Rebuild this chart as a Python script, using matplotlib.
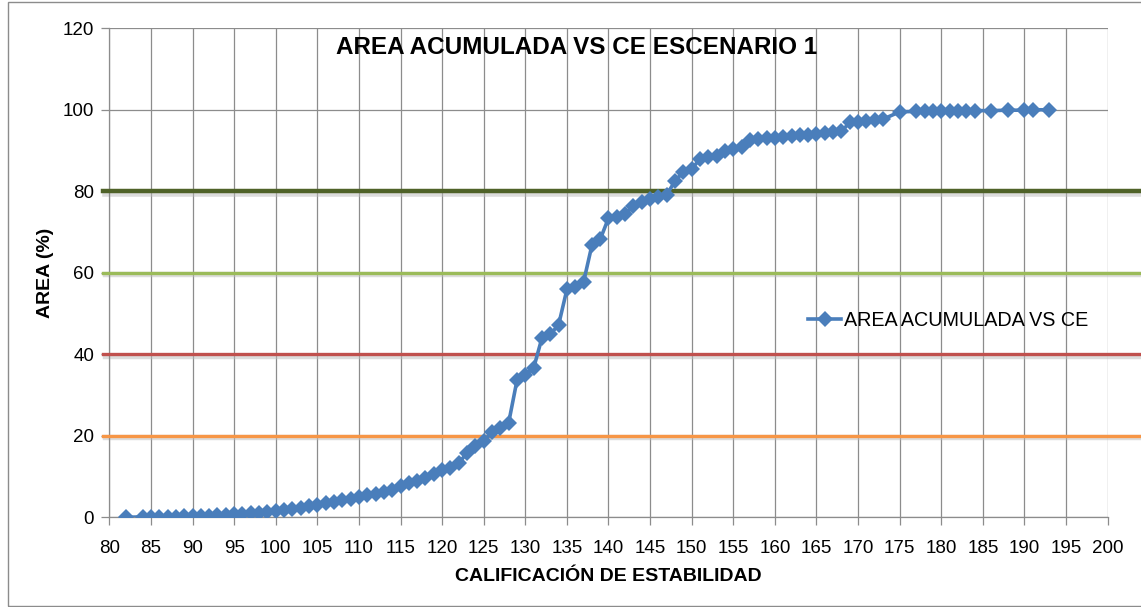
import matplotlib.pyplot as plt
from matplotlib.patches import Rectangle

# calificación de estabilidad (CE) y área acumulada (%)
ce = [82, 84, 85, 86, 87, 88, 89, 90, 91, 92, 93, 94, 95, 96, 97, 98, 99, 100,
      101, 102, 103, 104, 105, 106, 107, 108, 109, 110, 111, 112, 113, 114, 115,
      116, 117, 118, 119, 120, 121, 122, 123, 124, 125, 126, 127, 128, 129, 130,
      131, 132, 133, 134, 135, 136, 137, 138, 139, 140, 141, 142, 143, 144, 145,
      146, 147, 148, 149, 150, 151, 152, 153, 154, 155, 156, 157, 158, 159, 160,
      161, 162, 163, 164, 165, 166, 167, 168, 169, 170, 171, 172, 173, 175, 177,
      178, 179, 180, 181, 182, 183, 184, 186, 188, 190, 191, 193]
area = [0.0, 0.1, 0.1, 0.1, 0.1, 0.1, 0.2, 0.2, 0.3, 0.4, 0.5, 0.6, 0.7, 0.8, 1.0, 1.1, 1.3, 1.5,
        1.7, 2.0, 2.3, 2.7, 3.0, 3.4, 3.8, 4.2, 4.6, 5.0, 5.4, 5.8, 6.2, 6.7, 7.6,
        8.3, 8.9, 9.6, 10.6, 11.5, 12.2, 13.3, 15.8, 17.6, 18.7, 20.9, 22.0, 23.2, 33.6, 35.0,
        36.6, 44.0, 44.9, 47.2, 55.9, 56.5, 57.7, 66.7, 68.2, 73.4, 73.8, 74.5, 76.3, 77.4, 78.2,
        78.7, 79.2, 82.5, 84.8, 85.4, 88.0, 88.4, 88.6, 89.8, 90.3, 90.8, 92.6, 92.9, 93.0, 93.1,
        93.3, 93.5, 93.7, 93.9, 94.1, 94.3, 94.5, 94.7, 96.9, 97.1, 97.3, 97.5, 97.7, 99.5, 99.6,
        99.6, 99.7, 99.7, 99.7, 99.8, 99.8, 99.8, 99.8, 99.9, 99.9, 100.0, 100.0]

# líneas de referencia
umbrales = [80, 60, 40, 20]
colores_umbral = ['#4F6228', '#9BBB59', '#C0504D', '#F79646']
anchos_umbral = [3.2, 2.4, 2.4, 2.4]

plt.rcParams['font.family'] = ['Liberation Sans', 'DejaVu Sans']

fig = plt.figure(figsize=(11.41, 6.07), dpi=100)
ax = fig.add_axes([0.0958, 0.1478, 0.875, 0.8056])

ax.set_xlim(80, 200)
ax.set_ylim(0, 120)
ax.set_xticks(range(80, 201, 5))
ax.set_yticks(range(0, 121, 20))
ax.grid(True, color='#8C8C8C', linewidth=0.9)
ax.set_axisbelow(True)
for s in ['top', 'right']:
    ax.spines[s].set_visible(False)
for s in ['left', 'bottom']:
    ax.spines[s].set_color('#8C8C8C')
    ax.spines[s].set_linewidth(0.9)
ax.tick_params(axis='both', length=6, color='#8C8C8C', width=0.9, labelsize=13.5)
ax.tick_params(axis='x', pad=10)
ax.tick_params(axis='y', pad=5)

# líneas horizontales (formas de Excel, salen del área de trazado)
for y, c, lw in zip(umbrales, colores_umbral, anchos_umbral):
    ax.axhline(y - 0.35, xmin=-0.004, xmax=1.04, color='#BBBBBB', linewidth=lw + 1.5,
               alpha=0.5, clip_on=False, zorder=2)
    ax.axhline(y, xmin=-0.006, xmax=1.04, color=c, linewidth=lw, clip_on=False, zorder=3)

ax.plot(ce, area, color='#4A7EBB', linewidth=2.6, marker='D', markersize=8.5,
        markeredgewidth=0, label='AREA ACUMULADA VS CE', zorder=4)

ax.set_xlabel('CALIFICACIÓN DE ESTABILIDAD', fontsize=14, fontweight='bold', labelpad=8)
ax.set_ylabel('AREA (%)', fontsize=14, fontweight='bold', labelpad=6)
ax.text(0.468, 0.96, 'AREA ACUMULADA VS CE ESCENARIO 1', transform=ax.transAxes,
        ha='center', va='center', fontsize=17.5, fontweight='bold')

ax.legend(loc='center left', bbox_to_anchor=(0.682, 0.403), frameon=False, fontsize=14.2,
          handlelength=1.7, handletextpad=0.15)

# borde del gráfico
fig.patches.append(Rectangle((0.007, 0.002), 1.1, 0.995, transform=fig.transFigure,
                             fill=False, edgecolor='#8C8C8C', linewidth=1))

fig.savefig('out.png', dpi=100)
